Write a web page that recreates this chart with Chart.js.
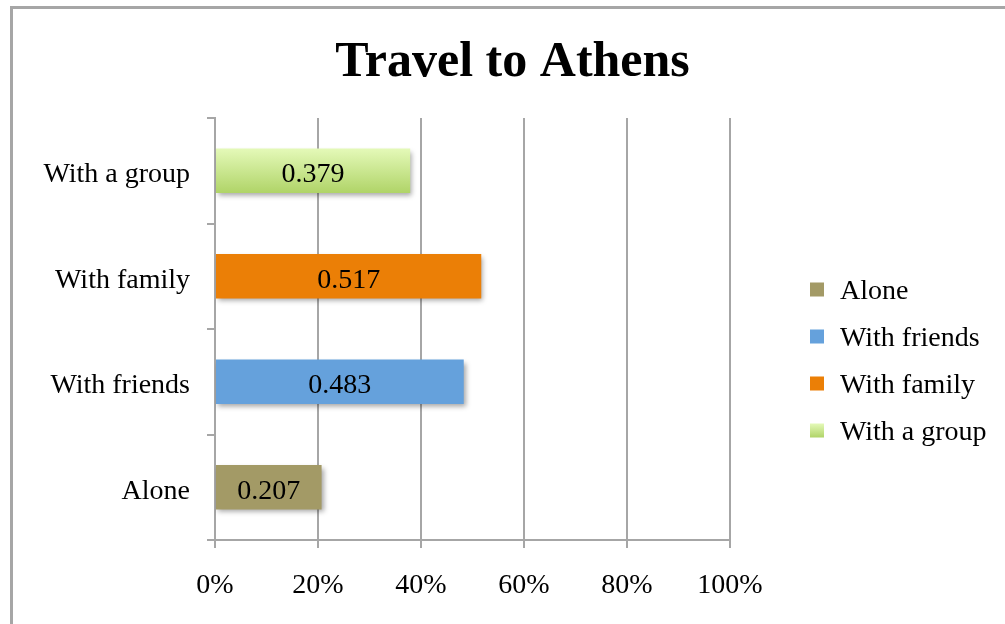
<!DOCTYPE html>
<html>
<head>
<meta charset="utf-8">
<script src="https://cdn.jsdelivr.net/npm/chart.js@4.4.1/dist/chart.umd.min.js"></script>
<style>
  html, body { margin: 0; padding: 0; background: #fff; overflow: hidden; }
  #marco { position: absolute; left: 10px; top: 6px; width: 1100px; height: 700px;
           border-left: 3px solid #a6a6a6; border-top: 3px solid #a6a6a6; }
  #contenedor { position: absolute; left: 0; top: 0; width: 1005px; height: 624px; }
</style>
</head>
<body>
<div id="marco"></div>
<div id="contenedor"><canvas id="grafico1" width="1005" height="624"></canvas></div>
<script>
// Datos del gráfico
var categorias = ['Alone', 'With friends', 'With family', 'With a group'];
var valores = [0.207, 0.483, 0.517, 0.379];
var ticksX = [0, 0.2, 0.4, 0.6, 0.8, 1];

var colores = ['#a39a66', '#65a1dc', '#eb7f06', 'verde'];
var fuente = "'Liberation Serif', 'Times New Roman', serif";

Chart.defaults.color = '#000';
Chart.defaults.font.family = fuente;
Chart.defaults.font.size = 28;

// degradado verde para "With a group"
function degradado(ctx, arriba, abajo) {
    var g = ctx.createLinearGradient(0, arriba, 0, abajo);
    g.addColorStop(0, '#e4f9b8');
    g.addColorStop(1, '#b0d468');
    return g;
}

function colorBarra(i) {
    return function (context) {
        if (colores[i] !== 'verde') return colores[i];
        var chart = context.chart;
        if (!chart.chartArea || !chart.scales.y) return '#cbe890';
        var yc = chart.scales.y.getPixelForValue(i);
        return degradado(chart.ctx, yc - 22, yc + 22);
    };
}

var datasets = categorias.map(function (c, i) {
    return {
        label: c,
        data: categorias.map(function (_, j) { return j === i ? valores[i] : null; }),
        backgroundColor: colorBarra(i),
        borderWidth: 0,
        categoryPercentage: 1,
        barPercentage: 0.42
    };
});

// sombra de las barras y etiquetas con el valor
var etiquetas = {
    id: 'etiquetas',
    beforeDatasetsDraw: function (chart) {
        var ctx = chart.ctx;
        ctx.save();
        ctx.shadowColor = 'rgba(0,0,0,0.35)';
        ctx.shadowBlur = 5;
        ctx.shadowOffsetX = 2;
        ctx.shadowOffsetY = 3;
    },
    afterDatasetsDraw: function (chart) {
        var ctx = chart.ctx;
        ctx.restore();
        ctx.save();
        ctx.font = '28px ' + fuente;
        ctx.fillStyle = '#000';
        ctx.textAlign = 'center';
        ctx.textBaseline = 'middle';
        chart.data.datasets.forEach(function (ds, i) {
            var meta = chart.getDatasetMeta(i);
            meta.data.forEach(function (barra, j) {
                if (ds.data[j] === null) return;
                ctx.fillText(String(ds.data[j]), (barra.x + barra.base) / 2, barra.y + 4);
            });
        });
        ctx.restore();
    },
    // leyenda dibujada a la derecha
    afterDraw: function (chart) {
        var ctx = chart.ctx;
        var area = chart.chartArea;
        var x0 = area.right + 80;
        var medio = (area.top + area.bottom) / 2 + 31;
        ctx.save();
        ctx.font = '28px ' + fuente;
        ctx.textAlign = 'left';
        ctx.textBaseline = 'middle';
        chart.data.datasets.forEach(function (ds, i) {
            var y = medio + (i - 1.5) * 47;
            ctx.fillStyle = colores[i] === 'verde' ? degradado(ctx, y - 7, y + 7) : colores[i];
            ctx.fillRect(x0, y - 7, 14, 14);
            ctx.fillStyle = '#000';
            ctx.fillText(ds.label, x0 + 30, y + 2);
        });
        ctx.restore();
    }
};

var gris = '#a6a6a6';

var ctx = document.getElementById('grafico1').getContext('2d');
var grafico1 = new Chart(ctx, {
    type: 'bar',
    data: { labels: categorias, datasets: datasets },
    options: {
        indexAxis: 'y',
        responsive: false,
        animation: false,
        layout: { padding: { left: 20, top: 0, right: 0, bottom: 0 } },
        plugins: {
            legend: { display: false },
            tooltip: { enabled: false },
            title: {
                display: true,
                text: 'Travel to Athens',
                color: '#000',
                font: { family: fuente, size: 50, weight: 'bold' },
                padding: { top: 33, bottom: 25 }
            }
        },
        scales: {
            y: {
                type: 'category',
                reverse: true,
                stacked: true,
                grid: { display: true, drawOnChartArea: false, color: gris, lineWidth: 2, tickLength: 8, offset: true },
                border: { display: true, color: gris, width: 2 },
                ticks: { padding: 17, color: '#000', labelOffset: 4 },
                afterFit: function (s) { s.width = 195; }
            },
            x: {
                type: 'linear',
                min: 0,
                max: 1,
                stacked: true,
                afterBuildTicks: function (s) { s.ticks = ticksX.map(function (v) { return { value: v }; }); },
                grid: { color: gris, lineWidth: 2, tickLength: 8 },
                border: { display: true, color: gris, width: 2 },
                ticks: {
                    padding: 21,
                    color: '#000',
                    maxRotation: 0,
                    callback: function (v) { return Math.round(v * 100) + '%'; }
                },
                afterFit: function (s) { s.height = 84; }
            },
            // eje vacío que deja sitio a la leyenda
            espacio: {
                type: 'linear',
                axis: 'y',
                position: 'right',
                display: true,
                grid: { display: false },
                border: { display: false },
                ticks: { display: false },
                afterFit: function (s) { s.width = 275; }
            }
        }
    },
    plugins: [etiquetas]
});
</script>
</body>
</html>
